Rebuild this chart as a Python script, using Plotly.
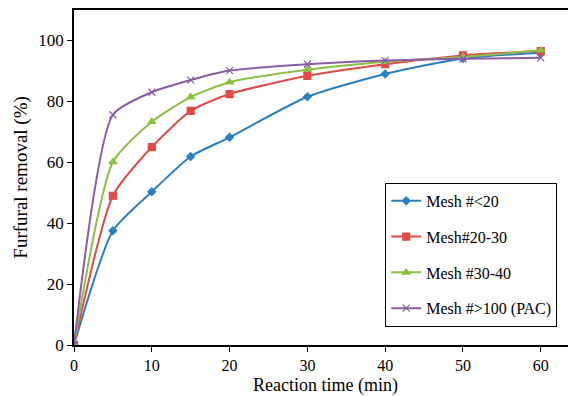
import plotly.graph_objects as go

time = [0, 5, 10, 15, 20, 30, 40, 50, 60]
mesh_lt20 = [0, 37.5, 50.3, 61.9, 68.2, 81.5, 89.0, 94.1, 96.0]
mesh_20_30 = [0, 49.0, 65.0, 76.9, 82.4, 88.4, 92.2, 95.1, 96.5]
mesh_30_40 = [0, 60.1, 73.3, 81.4, 86.3, 90.4, 93.0, 94.6, 96.8]
mesh_gt100 = [0, 75.6, 83.0, 87.0, 90.1, 92.2, 93.4, 94.0, 94.3]

names = ["Mesh #<20", "Mesh#20-30", "Mesh #30-40", "Mesh #>100 (PAC)"]
series = [mesh_lt20, mesh_20_30, mesh_30_40, mesh_gt100]
colors = ["#2a7fc2", "#e24a47", "#8cbf45", "#8a5ba6"]
symbols = ["diamond", "square", "triangle-up", "x-thin"]
sizes = [6, 7, 7, 7]
x_title = "Reaction time (min)"
y_title = "Furfural removal (%)"

fig = go.Figure()
for i, (n, s, c, m, sz) in enumerate(zip(names, series, colors, symbols, sizes)):
    fig.add_trace(go.Scatter(
        x=time, y=s, name=n, mode="lines+markers",
        line=dict(color=c, width=2, shape="spline", smoothing=0.6),
        marker=dict(symbol=m, size=sz, color=c, line=dict(color=c, width=1.2)),
        legendgroup=f"g{i}",
    ))

font = "Liberation Serif"
fig.update_layout(
    width=568, height=396,
    margin=dict(l=74, r=0, t=10, b=51),
    paper_bgcolor="white", plot_bgcolor="white",
    font=dict(family=font, size=17, color="black"),
    showlegend=True,
    legend=dict(
        x=0.63, y=0.484, xanchor="left", yanchor="top",
        bordercolor="black", borderwidth=1, bgcolor="white",
        font=dict(family=font, size=16),
        tracegroupgap=12,
    ),
    xaxis=dict(
        range=[0, 63.5], tickvals=[0, 10, 20, 30, 40, 50, 60],
        showline=True, linecolor="black", linewidth=1.5, mirror=True,
        ticks="outside", ticklen=5, tickcolor="black",
        tickfont=dict(family=font, size=16),
        showgrid=False, zeroline=False, automargin=False,
    ),
    yaxis=dict(
        range=[0, 110], tickvals=[0, 20, 40, 60, 80, 100],
        showline=True, linecolor="black", linewidth=1.5,
        ticks="outside", ticklen=5, tickcolor="black",
        tickfont=dict(family=font, size=17),
        showgrid=False, zeroline=False, automargin=False,
    ),
    annotations=[
        dict(text=x_title, xref="paper", yref="paper", x=0.51, y=-0.1215,
             xanchor="center", yanchor="middle", showarrow=False,
             font=dict(family=font, size=18)),
        dict(text=y_title, xref="paper", yref="paper", x=-0.109, y=0.5,
             xanchor="center", yanchor="middle", showarrow=False, textangle=-90,
             font=dict(family=font, size=19)),
    ],
)
fig.write_html("out.html")
